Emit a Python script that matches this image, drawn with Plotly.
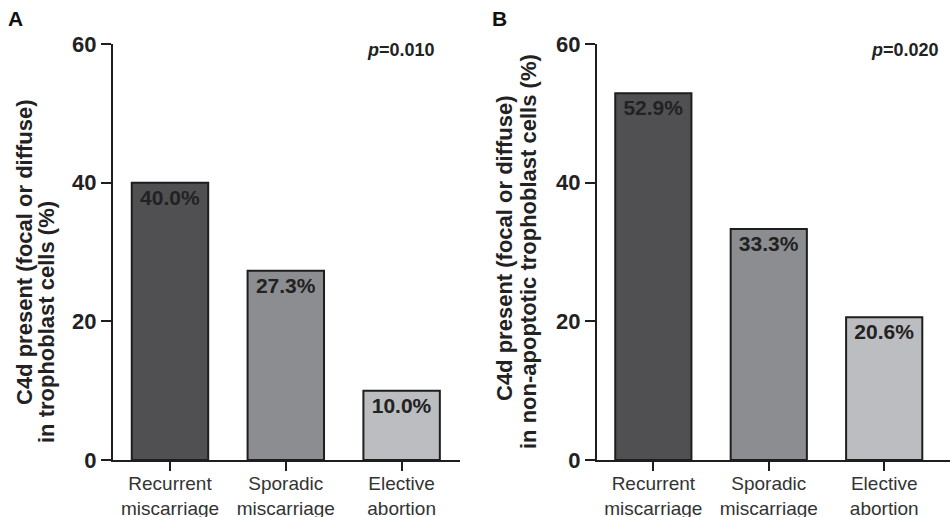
import plotly.graph_objects as go

categories = ["Recurrent<br>miscarriage", "Sporadic<br>miscarriage", "Elective<br>abortion"]
values_a = [40.0, 27.3, 10.0]
values_b = [52.9, 33.3, 20.6]
labels_a = ["40.0%", "27.3%", "10.0%"]
labels_b = ["52.9%", "33.3%", "20.6%"]
y_ticks = [0, 20, 40, 60]
p_a = "0.010"
p_b = "0.020"

W, H = 951, 517
bar_colors = ["#505052", "#8c8d90", "#bcbdc0"]
FONT = "Arial, Liberation Sans, Helvetica, sans-serif"

fig = go.Figure()
for vals, labs, xa, ya in [(values_a, labels_a, "x", "y"), (values_b, labels_b, "x2", "y2")]:
    fig.add_trace(go.Bar(
        x=list(range(len(categories))), y=vals, text=labs,
        textposition="inside", insidetextanchor="end", textangle=0,
        constraintext="none",
        textfont=dict(family=FONT, size=21, color="#222222", weight="bold"),
        marker=dict(color=bar_colors, line=dict(color="#1e1e1e", width=2)),
        width=0.66, xaxis=xa, yaxis=ya, showlegend=False, hoverinfo="skip",
    ))

def px_x(p):
    return p / W

def px_y(p):
    return 1 - p / H

ydom = [px_y(460), px_y(44)]
common_x = dict(
    tickmode="array", tickvals=[0, 1, 2], ticktext=categories,
    showline=True, linecolor="#1e1e1e", linewidth=2,
    ticks="outside", ticklen=9, tickwidth=2, tickcolor="#1e1e1e",
    tickfont=dict(family=FONT, size=19, color="#333333"),
    ticklabelstandoff=-4,
    showgrid=False, zeroline=False, fixedrange=True, automargin=False,
)
common_y = dict(
    range=[0, 60], tickvals=y_ticks,
    showline=True, linecolor="#1e1e1e", linewidth=2,
    ticks="outside", ticklen=10, tickwidth=2, tickcolor="#1e1e1e",
    tickfont=dict(family=FONT, size=22, color="#222222", weight="bold"),
    showgrid=False, zeroline=False, domain=ydom, fixedrange=True, automargin=False,
)

fig.update_layout(
    width=W, height=H,
    margin=dict(l=0, r=0, t=0, b=0, autoexpand=False),
    paper_bgcolor="white", plot_bgcolor="white",
    xaxis=dict(domain=[px_x(113), px_x(460)], range=[-0.492, 2.504], anchor="y", **common_x),
    yaxis=dict(anchor="x", **common_y),
    xaxis2=dict(domain=[px_x(597), px_x(950)], range=[-0.488, 2.57], anchor="y2", **common_x),
    yaxis2=dict(anchor="x2", **common_y),
)

title_font = dict(family=FONT, size=22, color="#222222", weight="bold")
lab_font = dict(family=FONT, size=21, color="#111", weight="bold")
p_font = dict(family=FONT, size=18, color="#222", weight="bold")
ann = [
    dict(text="A", x=px_x(15), y=px_y(18.5), font=lab_font),
    dict(text="B", x=px_x(500), y=px_y(18.5), font=lab_font),
    dict(text="<i>p</i>=" + p_a, x=px_x(401), y=px_y(50), font=p_font),
    dict(text="<i>p</i>=" + p_b, x=px_x(905), y=px_y(50), font=p_font),
    dict(text="C4d present (focal or diffuse)", x=px_x(24), y=px_y(252), textangle=-90, font=title_font),
    dict(text="in trophoblast cells (%)", x=px_x(46), y=px_y(322), textangle=-90, font=title_font),
    dict(text="C4d present (focal or diffuse)", x=px_x(504), y=px_y(248), textangle=-90, font=title_font),
    dict(text="in non-apoptotic trophoblast cells (%)", x=px_x(528), y=px_y(252), textangle=-90, font=title_font),
]
for a in ann:
    fig.add_annotation(xref="paper", yref="paper", xanchor="center", yanchor="middle",
                       showarrow=False, **a)

fig.write_html("out.html", config={"displayModeBar": False},
               post_script="document.body.style.margin='0';document.body.style.overflow='hidden';")
